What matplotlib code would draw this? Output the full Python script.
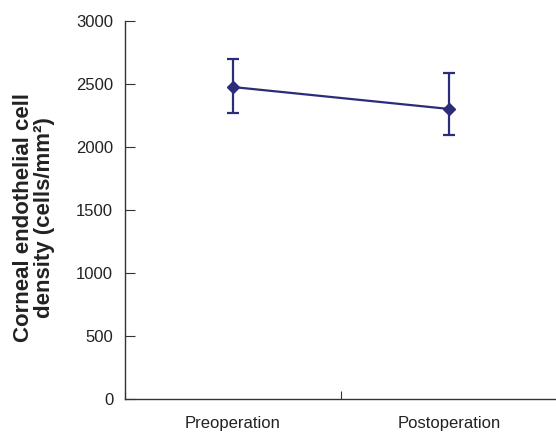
import matplotlib
matplotlib.use("Agg")
import matplotlib.pyplot as plt
import numpy as np

categories = ["Preoperation", "Postoperation"]
means = [2476, 2302]
upper = [2698, 2587]
lower = [2270, 2095]
yticks = [0, 500, 1000, 1500, 2000, 2500, 3000]

plt.rcParams['font.family'] = ['Liberation Sans', 'DejaVu Sans']
color = "#2B2D7A"
textc = "#222222"

fig = plt.figure(figsize=(5.56, 4.34), dpi=100)
ax = fig.add_axes([0.2248, 0.0806, 0.777, 0.871])

x = np.arange(len(categories)) + 0.5
m = np.array(means)
yerr = [m - np.array(lower), np.array(upper) - m]
ax.errorbar(x, m, yerr=yerr, color=color, marker='D', markersize=6.5,
            linewidth=1.6, capsize=4.5, capthick=1.6, elinewidth=1.6)

ax.set_xlim(0, 2)
ax.set_ylim(0, 3000)
ax.set_yticks(yticks)
ax.set_xticks([0, 1, 2])
ax.set_xticklabels([])
ax.set_xticks(x, minor=True)
ax.set_xticklabels(categories, minor=True)
ax.tick_params(axis='x', which='minor', length=0, pad=12, labelsize=12, labelcolor=textc)
ax.tick_params(axis='x', which='major', direction='in', length=6, color='#333333')
ax.tick_params(axis='y', direction='in', length=7, labelsize=12, pad=8.5,
               color='#333333', labelcolor=textc)

for s in ['top', 'right']:
    ax.spines[s].set_visible(False)
for s in ['left', 'bottom']:
    ax.spines[s].set_color('#333333')
    ax.spines[s].set_linewidth(1.0)

fig.text(34 / 556, 1 - 218 / 434, "Corneal endothelial cell\ndensity (cells/mm²)",
         rotation=90, ha='center', va='center', multialignment='center',
         fontsize=16, fontweight='bold', linespacing=1.0, color=textc)

fig.savefig("out.png", dpi=100)
